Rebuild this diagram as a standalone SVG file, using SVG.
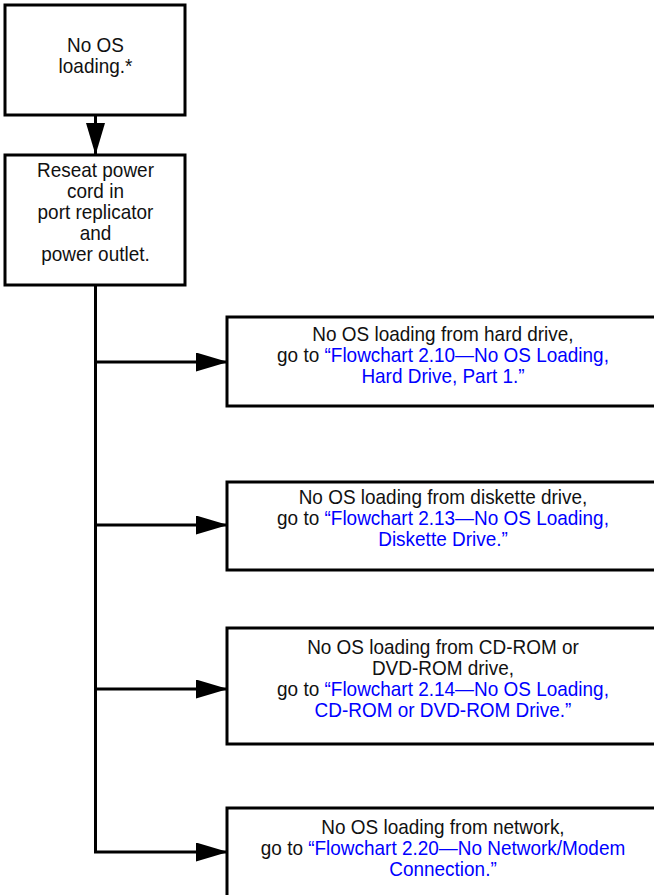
<svg xmlns="http://www.w3.org/2000/svg" width="654" height="895" viewBox="0 0 654 895">
<style>
.box{fill:#fff;stroke:#000;stroke-width:3}
.t{font-family:"Liberation Sans Narrow","Liberation Sans",Arial,sans-serif;font-size:20.5px;fill:#111;text-anchor:middle}
.l{fill:#0000ff}
.c{fill:none;stroke:#000;stroke-width:3}
</style>
<defs>
<marker id="ah" markerUnits="userSpaceOnUse" markerWidth="32" markerHeight="19" refX="32" refY="9.5" orient="auto" viewBox="0 0 32 19">
<path d="M0,0 L32,9.5 L0,19 Z" fill="#000"/>
</marker>
</defs>
<g id="connectors">
<line class="c" x1="95.5" y1="115" x2="95.5" y2="155" marker-end="url(#ah)"/>
<polyline class="c" points="95.5,285 95.5,852 228,852" marker-end="url(#ah)"/>
<line class="c" x1="95.5" y1="362" x2="228" y2="362" marker-end="url(#ah)"/>
<line class="c" x1="95.5" y1="525" x2="228" y2="525" marker-end="url(#ah)"/>
<line class="c" x1="95.5" y1="689" x2="228" y2="689" marker-end="url(#ah)"/>
</g>
<g id="n1">
<rect class="box" x="5" y="5" width="180" height="110"/>
<g transform="matrix(0.925,0,0,1,7.16,0)">
<text class="t" x="95.5" y="52">No OS</text>
<text class="t" x="95.5" y="73">loading.*</text>
</g>
</g>
<g id="n2">
<rect class="box" x="5" y="155" width="180" height="130"/>
<g transform="matrix(0.925,0,0,1,7.16,0)">
<text class="t" x="95.5" y="177">Reseat power</text>
<text class="t" x="95.5" y="198">cord in</text>
<text class="t" x="95.5" y="219">port replicator</text>
<text class="t" x="95.5" y="240">and</text>
<text class="t" x="95.5" y="261.5">power outlet.</text>
</g>
</g>
<g id="n3">
<rect class="box" x="227" y="317" width="450" height="89"/>
<g transform="matrix(0.925,0,0,1,33.22,0)">
<text class="t" x="443" y="341.5">No OS loading from hard drive,</text>
<text class="t" x="443" y="362.5">go to <tspan class="l">“Flowchart 2.10—No OS Loading,</tspan></text>
<text class="t l" x="443" y="383.5">Hard Drive, Part 1.”</text>
</g>
</g>
<g id="n4">
<rect class="box" x="227" y="482" width="450" height="88"/>
<g transform="matrix(0.925,0,0,1,33.22,0)">
<text class="t" x="443" y="504">No OS loading from diskette drive,</text>
<text class="t" x="443" y="525">go to <tspan class="l">“Flowchart 2.13—No OS Loading,</tspan></text>
<text class="t l" x="443" y="546">Diskette Drive.”</text>
</g>
</g>
<g id="n5">
<rect class="box" x="227" y="628" width="450" height="116"/>
<g transform="matrix(0.925,0,0,1,33.22,0)">
<text class="t" x="443" y="654">No OS loading from CD-ROM or</text>
<text class="t" x="443" y="675">DVD-ROM drive,</text>
<text class="t" x="443" y="696">go to <tspan class="l">“Flowchart 2.14—No OS Loading,</tspan></text>
<text class="t l" x="443" y="717">CD-ROM or DVD-ROM Drive.”</text>
</g>
</g>
<g id="n6">
<rect class="box" x="227" y="808" width="450" height="120"/>
<g transform="matrix(0.925,0,0,1,33.22,0)">
<text class="t" x="443" y="834">No OS loading from network,</text>
<text class="t" x="443" y="855">go to <tspan class="l">“Flowchart 2.20—No Network/Modem</tspan></text>
<text class="t l" x="443" y="876">Connection.”</text>
</g>
</g>
</svg>
